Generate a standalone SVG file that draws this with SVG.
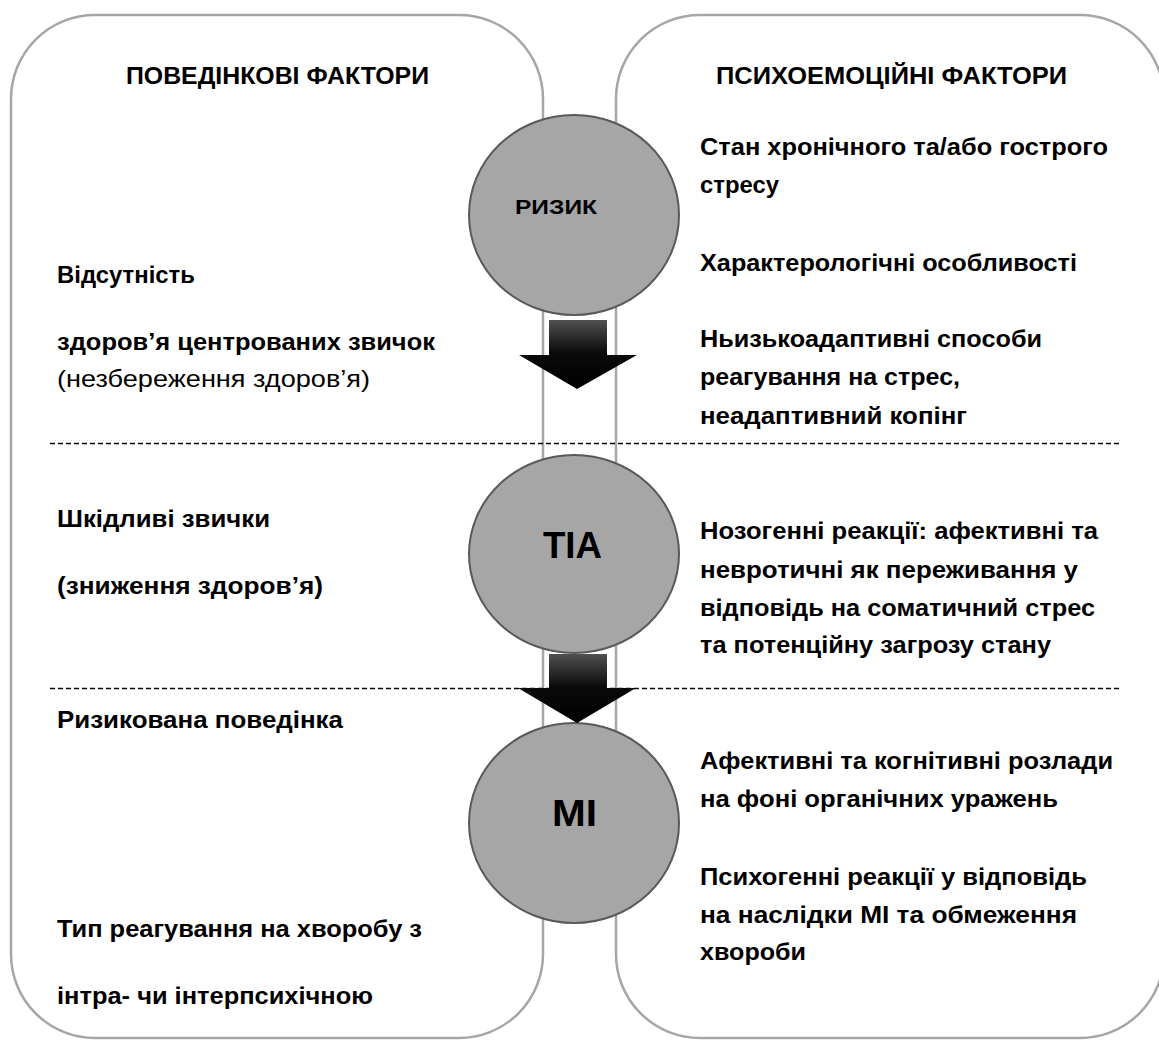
<svg xmlns="http://www.w3.org/2000/svg" width="1159" height="1041" viewBox="0 0 1159 1041">
<style>
.panel{fill:#fff;stroke:#a6a6a6;stroke-width:2.5}
.node{fill:#a6a6a6;stroke:#595959;stroke-width:2}
.div{stroke:#000;stroke-width:1.6;stroke-dasharray:5 3;fill:none}
.t{font-family:"Liberation Sans",Arial,sans-serif;font-size:24px;font-weight:bold;fill:#000}
.n{font-weight:normal}
.h{font-size:23px}
.lbl{font-family:"Liberation Sans",Arial,sans-serif;font-weight:bold;fill:#000}
</style>
<defs>
<linearGradient id="ag" x1="0" y1="0" x2="0" y2="1">
<stop offset="0" stop-color="#505050"/>
<stop offset="0.48" stop-color="#0a0a0a"/>
<stop offset="1" stop-color="#000"/>
</linearGradient>
</defs>
<rect width="1159" height="1041" fill="#fff"/>
<g id="panel-left">
<rect class="panel" x="11" y="15" width="532" height="1023" rx="84" ry="84"/>
<text class="t h" x="126" y="84" textLength="303" lengthAdjust="spacingAndGlyphs">ПОВЕДІНКОВІ ФАКТОРИ</text>
<text class="t" x="57" y="283" textLength="138" lengthAdjust="spacingAndGlyphs">Відсутність</text>
<text class="t" x="57" y="350" textLength="378" lengthAdjust="spacingAndGlyphs">здоров’я центрованих звичок</text>
<text class="t n" x="57" y="387" textLength="313" lengthAdjust="spacingAndGlyphs">(незбереження здоров’я)</text>
<text class="t" x="57" y="527" textLength="213" lengthAdjust="spacingAndGlyphs">Шкідливі звички</text>
<text class="t" x="57" y="594" textLength="266" lengthAdjust="spacingAndGlyphs">(зниження здоров’я)</text>
<text class="t" x="57" y="728" textLength="286" lengthAdjust="spacingAndGlyphs">Ризикована поведінка</text>
<text class="t" x="57" y="937" textLength="365" lengthAdjust="spacingAndGlyphs">Тип реагування на хворобу з</text>
<text class="t" x="57" y="1004" textLength="316" lengthAdjust="spacingAndGlyphs">інтра- чи інтерпсихічною</text>
</g>
<g id="panel-right">
<rect class="panel" x="616" y="15" width="548" height="1023" rx="84" ry="84"/>
<text class="t h" x="716" y="84" textLength="351" lengthAdjust="spacingAndGlyphs">ПСИХОЕМОЦІЙНІ ФАКТОРИ</text>
<text class="t" x="700" y="155" textLength="408" lengthAdjust="spacingAndGlyphs">Стан хронічного та/або гострого</text>
<text class="t" x="700" y="193" textLength="79" lengthAdjust="spacingAndGlyphs">стресу</text>
<text class="t" x="700" y="271" textLength="377" lengthAdjust="spacingAndGlyphs">Характерологічні особливості</text>
<text class="t" x="700" y="347" textLength="342" lengthAdjust="spacingAndGlyphs">Ньизькоадаптивні способи</text>
<text class="t" x="700" y="385" textLength="260" lengthAdjust="spacingAndGlyphs">реагування на стрес,</text>
<text class="t" x="700" y="424" textLength="267" lengthAdjust="spacingAndGlyphs">неадаптивний копінг</text>
<text class="t" x="700" y="539" textLength="398" lengthAdjust="spacingAndGlyphs">Нозогенні реакції: афективні та</text>
<text class="t" x="700" y="578" textLength="378" lengthAdjust="spacingAndGlyphs">невротичні як переживання у</text>
<text class="t" x="700" y="616" textLength="395" lengthAdjust="spacingAndGlyphs">відповідь на соматичний стрес</text>
<text class="t" x="700" y="653" textLength="351" lengthAdjust="spacingAndGlyphs">та потенційну загрозу стану</text>
<text class="t" x="700" y="769" textLength="413" lengthAdjust="spacingAndGlyphs">Афективні та когнітивні розлади</text>
<text class="t" x="700" y="807" textLength="358" lengthAdjust="spacingAndGlyphs">на фоні органічних уражень</text>
<text class="t" x="700" y="885" textLength="387" lengthAdjust="spacingAndGlyphs">Психогенні реакції у відповідь</text>
<text class="t" x="700" y="923" textLength="377" lengthAdjust="spacingAndGlyphs">на наслідки MI та обмеження</text>
<text class="t" x="700" y="960" textLength="106" lengthAdjust="spacingAndGlyphs">хвороби</text>
</g>
<g id="dividers">
<line class="div" x1="50" y1="443.5" x2="1121" y2="443.5"/>
<line class="div" x1="50" y1="688.5" x2="1121" y2="688.5"/>
</g>
<g id="node-risk">
<ellipse class="node" cx="574" cy="215" rx="105" ry="100"/>
<text class="lbl" x="515" y="214" font-size="20" textLength="82" lengthAdjust="spacingAndGlyphs">РИЗИК</text>
</g>
<g id="node-tia">
<ellipse class="node" cx="574" cy="554" rx="105" ry="99"/>
<text class="lbl" x="543" y="558" font-size="36" textLength="59" lengthAdjust="spacingAndGlyphs">TIA</text>
</g>
<g id="node-mi">
<ellipse class="node" cx="574" cy="823" rx="105" ry="100"/>
<text class="lbl" x="552" y="826" font-size="36" textLength="45" lengthAdjust="spacingAndGlyphs">MI</text>
</g>
<g id="connectors">
<polygon fill="url(#ag)" points="549,320 607,320 607,355 637,355 577,389 519,355 549,355"/>
<polygon fill="url(#ag)" points="549,654 607,654 607,688 636,688 577,723 518,688 549,688"/>
</g>
</svg>
